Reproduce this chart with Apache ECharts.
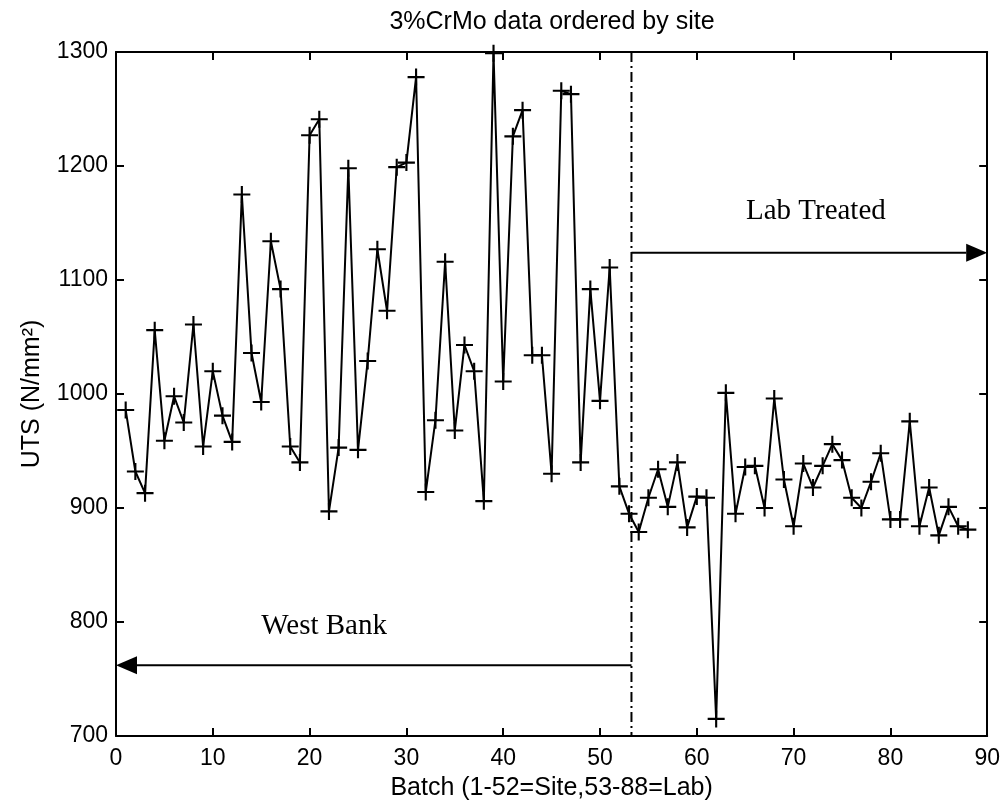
<!DOCTYPE html>
<html>
<head>
<meta charset="utf-8">
<script src="https://cdn.jsdelivr.net/npm/echarts@6/dist/echarts.min.js"></script>
<style>
  html, body { margin: 0; padding: 0; background: #ffffff; }
  #chart { width: 1003px; height: 810px; }
</style>
</head>
<body>
<div id="chart"></div>
<script>
// UTS of 3%CrMo batches: 1-52 taken on site, 53-88 treated in the lab
const batches = [
  1, 2, 3, 4, 5, 6, 7, 8, 9, 10, 11, 12, 13, 14, 15, 16, 17, 18, 19, 20, 21, 22,
  23, 24, 25, 26, 27, 28, 29, 30, 31, 32, 33, 34, 35, 36, 37, 38, 39, 40, 41, 42, 43, 44,
  45, 46, 47, 48, 49, 50, 51, 52, 53, 54, 55, 56, 57, 58, 59, 60, 61, 62, 63, 64, 65, 66,
  67, 68, 69, 70, 71, 72, 73, 74, 75, 76, 77, 78, 79, 80, 81, 82, 83, 84, 85, 86, 87, 88
];
const uts = [
  986, 932, 913, 1056, 959, 998, 975, 1061, 954, 1020, 981, 958, 1175, 1036, 993, 1134, 1092, 954, 940, 1227, 1241, 897,
  953, 1198, 951, 1029, 1127, 1073, 1199, 1203, 1278, 914, 977, 1116, 968, 1043, 1020, 906, 1299, 1011, 1226, 1249, 1034, 1034,
  930, 1266, 1263, 940, 1092, 994, 1111, 919, 895, 879, 909, 934, 901, 940, 883, 910, 909, 715, 1001, 895, 936, 937,
  900, 996, 925, 884, 939, 918, 937, 956, 942, 909, 900, 923, 948, 890, 890, 976, 884, 918, 876, 901, 884, 881
];

// Axis ranges and tick spacing
const xRange = [0, 90];
const xStep = 10;
const yRange = [700, 1300];
const yStep = 100;

// Boundary between site and lab batches
const boundary = [53.25];

// Arrows: [from batch, to batch, UTS level]
const arrowStart = [53.25, 53.25];
const arrowEnd = [0, 90];
const arrowLevel = [762, 1124];

// Region labels
const noteText = ['West Bank', 'Lab Treated'];
const noteX = [21.5, 72.3];
const noteY = [796, 1160];

const sansFont = "'Liberation Sans', Arial, Helvetica, sans-serif";
const serifFont = "'Liberation Serif', 'Times New Roman', serif";
const ink = '#000000';

const plusSymbol = 'path://M-1,-8L1,-8L1,8L-1,8Z M-8,-1L8,-1L8,1L-8,1Z';

const boxAxis = {
  type: 'value',
  axisLine: { show: true, onZero: false, lineStyle: { color: ink, width: 2 } },
  axisTick: { show: true, inside: true, length: 8, lineStyle: { color: ink, width: 2 } },
  splitLine: { show: false },
  minorTick: { show: false }
};

const plainNumber = v => String(v);

const chart = echarts.init(document.getElementById('chart'), null, { renderer: 'canvas' });

chart.setOption({
  animation: false,
  backgroundColor: '#ffffff',
  title: {
    text: '3%CrMo data ordered by site',
    left: 552,
    top: 10,
    padding: 0,
    textAlign: 'center',
    textStyle: { fontFamily: sansFont, fontSize: 25, fontWeight: 'normal', color: ink }
  },
  grid: { left: 116, right: 15, top: 52, bottom: 74, containLabel: false },
  xAxis: [
    Object.assign({}, boxAxis, {
      position: 'bottom', min: xRange[0], max: xRange[1], interval: xStep,
      name: 'Batch (1-52=Site,53-88=Lab)', nameLocation: 'middle', nameGap: 40,
      nameTextStyle: { fontFamily: sansFont, fontSize: 25, color: ink },
      axisLabel: { show: true, margin: 11, fontFamily: sansFont, fontSize: 23, color: ink, formatter: plainNumber }
    }),
    Object.assign({}, boxAxis, {
      position: 'top', min: xRange[0], max: xRange[1], interval: xStep,
      axisLabel: { show: false }
    })
  ],
  yAxis: [
    Object.assign({}, boxAxis, {
      position: 'left', min: yRange[0], max: yRange[1], interval: yStep,
      name: 'UTS (N/mm²)', nameLocation: 'middle', nameGap: 71, nameRotate: 90,
      nameTextStyle: { fontFamily: sansFont, fontSize: 25, color: ink },
      axisLabel: { show: true, margin: 8, fontFamily: sansFont, fontSize: 23, color: ink, formatter: plainNumber }
    }),
    Object.assign({}, boxAxis, {
      position: 'right', min: yRange[0], max: yRange[1], interval: yStep,
      axisLabel: { show: false }
    })
  ],
  series: [
    {
      name: 'UTS',
      type: 'line',
      data: batches.map((b, i) => [b, uts[i]]),
      symbol: plusSymbol,
      symbolSize: 17,
      showSymbol: true,
      showAllSymbol: true,
      itemStyle: { color: ink },
      lineStyle: { color: ink, width: 2 },
      emphasis: { disabled: true },
      z: 5
    },
    {
      name: 'boundary',
      type: 'custom',
      data: boundary.map(b => [b]),
      encode: { x: 0 },
      renderItem: (params, api) => {
        const top = api.coord([api.value(0), yRange[1]]);
        const bottom = api.coord([api.value(0), yRange[0]]);
        return {
          type: 'line',
          shape: { x1: top[0], y1: top[1], x2: bottom[0], y2: bottom[1] },
          style: { stroke: ink, lineWidth: 2, lineDash: [10, 4, 2, 4] }
        };
      },
      z: 3
    },
    {
      name: 'arrows',
      type: 'custom',
      data: arrowStart.map((s, i) => [s, arrowEnd[i], arrowLevel[i]]),
      encode: { x: [0, 1], y: 2 },
      renderItem: (params, api) => {
        const p1 = api.coord([api.value(0), api.value(2)]);
        const p2 = api.coord([api.value(1), api.value(2)]);
        const dir = p2[0] > p1[0] ? 1 : -1;
        const headLen = 21;
        const headHalf = 9;
        const baseX = p2[0] - dir * headLen;
        return {
          type: 'group',
          children: [
            {
              type: 'line',
              shape: { x1: p1[0], y1: p1[1], x2: baseX, y2: p2[1] },
              style: { stroke: ink, lineWidth: 2 }
            },
            {
              type: 'polygon',
              shape: { points: [[p2[0], p2[1]], [baseX, p2[1] - headHalf], [baseX, p2[1] + headHalf]] },
              style: { fill: ink }
            }
          ]
        };
      },
      z: 4
    },
    {
      name: 'notes',
      type: 'custom',
      data: noteText.map((t, i) => [noteX[i], noteY[i], t]),
      encode: { x: 0, y: 1 },
      renderItem: (params, api) => {
        const p = api.coord([api.value(0), api.value(1)]);
        return {
          type: 'text',
          x: p[0],
          y: p[1],
          style: {
            text: noteText[params.dataIndex],
            font: '29px ' + serifFont,
            fill: ink,
            align: 'center',
            verticalAlign: 'middle'
          }
        };
      },
      z: 4
    }
  ]
});
</script>
</body>
</html>
